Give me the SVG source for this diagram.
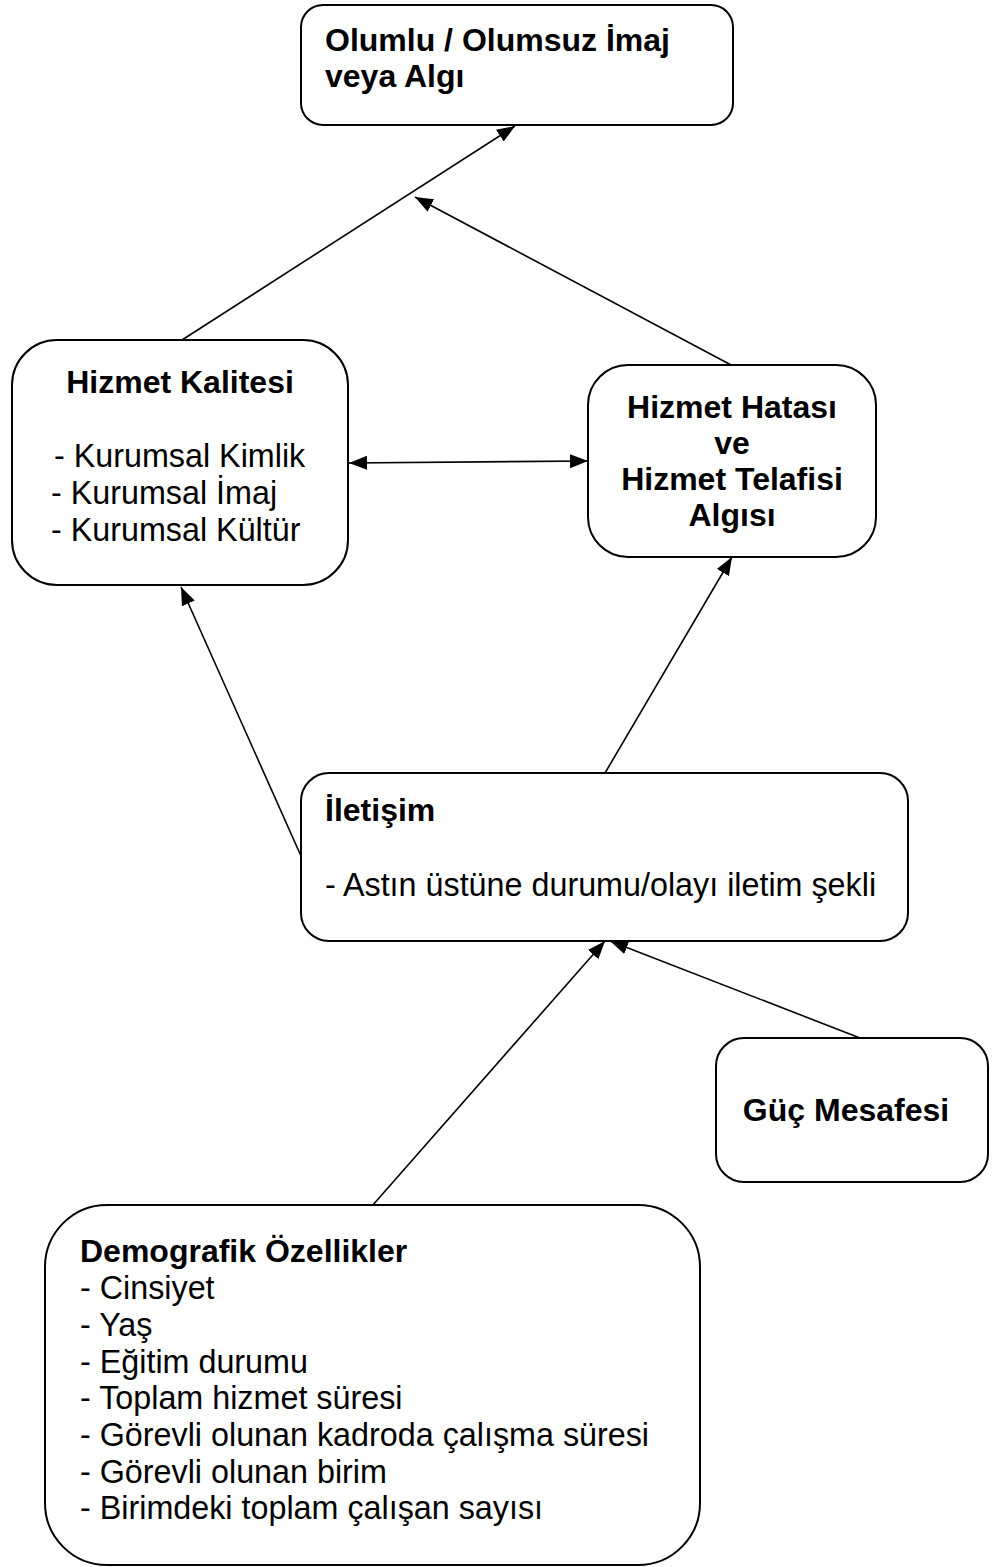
<svg xmlns="http://www.w3.org/2000/svg" width="993" height="1567" viewBox="0 0 993 1567">
<style>
.box{fill:#fff;stroke:#000;stroke-width:2}
.b{font-family:"Liberation Sans",Arial,sans-serif;font-weight:bold;font-size:32px;fill:#000}
.r{font-family:"Liberation Sans",Arial,sans-serif;font-size:32.3px;fill:#000}
.c{text-anchor:middle}
.ln{stroke:#000;stroke-width:1.6;fill:none}
</style>
<defs>
<marker id="ah" markerUnits="userSpaceOnUse" markerWidth="20" markerHeight="16" refX="18" refY="8" orient="auto-start-reverse" viewBox="0 0 20 16">
<path d="M0,1 L18,8 L0,15 Z" fill="#000"/>
</marker>
</defs>
<rect width="993" height="1567" fill="#fff"/>
<g id="connectors">
<line class="ln" x1="182" y1="340" x2="515" y2="126" marker-end="url(#ah)"/>
<line class="ln" x1="733" y1="366" x2="415" y2="197" marker-end="url(#ah)"/>
<line class="ln" x1="349" y1="463" x2="588" y2="461" marker-start="url(#ah)" marker-end="url(#ah)"/>
<line class="ln" x1="301" y1="856" x2="181" y2="587" marker-end="url(#ah)"/>
<line class="ln" x1="605" y1="773" x2="732" y2="557" marker-end="url(#ah)"/>
<line class="ln" x1="372" y1="1206" x2="605" y2="941" marker-end="url(#ah)"/>
<line class="ln" x1="860" y1="1038" x2="610" y2="941" marker-end="url(#ah)"/>
</g>
<g id="node-imaj">
<rect class="box" x="301" y="5" width="432" height="120" rx="22"/>
<text class="b" x="325" y="51">Olumlu / Olumsuz İmaj</text>
<text class="b" x="325" y="87">veya Algı</text>
</g>
<g id="node-kalite">
<rect class="box" x="12" y="340" width="336" height="245" rx="45"/>
<text class="b c" x="180" y="393">Hizmet Kalitesi</text>
<text class="r" x="54" y="467">- Kurumsal Kimlik</text>
<text class="r" x="51" y="504">- Kurumsal İmaj</text>
<text class="r" x="51" y="541">- Kurumsal Kültür</text>
</g>
<g id="node-hata">
<rect class="box" x="588" y="365" width="288" height="192" rx="40"/>
<text class="b c" x="732" y="418">Hizmet Hatası</text>
<text class="b c" x="732" y="454">ve</text>
<text class="b c" x="732" y="490">Hizmet Telafisi</text>
<text class="b c" x="732" y="526">Algısı</text>
</g>
<g id="node-iletisim">
<rect class="box" x="301" y="773" width="607" height="168" rx="28"/>
<text class="b" x="325" y="821">İletişim</text>
<text class="r" x="325" y="896">- Astın üstüne durumu/olayı iletim şekli</text>
</g>
<g id="node-guc">
<rect class="box" x="716" y="1038" width="272" height="144" rx="28"/>
<text class="b c" x="846" y="1121">Güç Mesafesi</text>
</g>
<g id="node-demografik">
<rect class="box" x="45" y="1205" width="655" height="360" rx="62"/>
<text class="b" x="80" y="1262">Demografik Özellikler</text>
<text class="r" x="80" y="1299">- Cinsiyet</text>
<text class="r" x="80" y="1336">- Yaş</text>
<text class="r" x="80" y="1373">- Eğitim durumu</text>
<text class="r" x="80" y="1409">- Toplam hizmet süresi</text>
<text class="r" x="80" y="1446">- Görevli olunan kadroda çalışma süresi</text>
<text class="r" x="80" y="1483">- Görevli olunan birim</text>
<text class="r" x="80" y="1519">- Birimdeki toplam çalışan sayısı</text>
</g>
</svg>
